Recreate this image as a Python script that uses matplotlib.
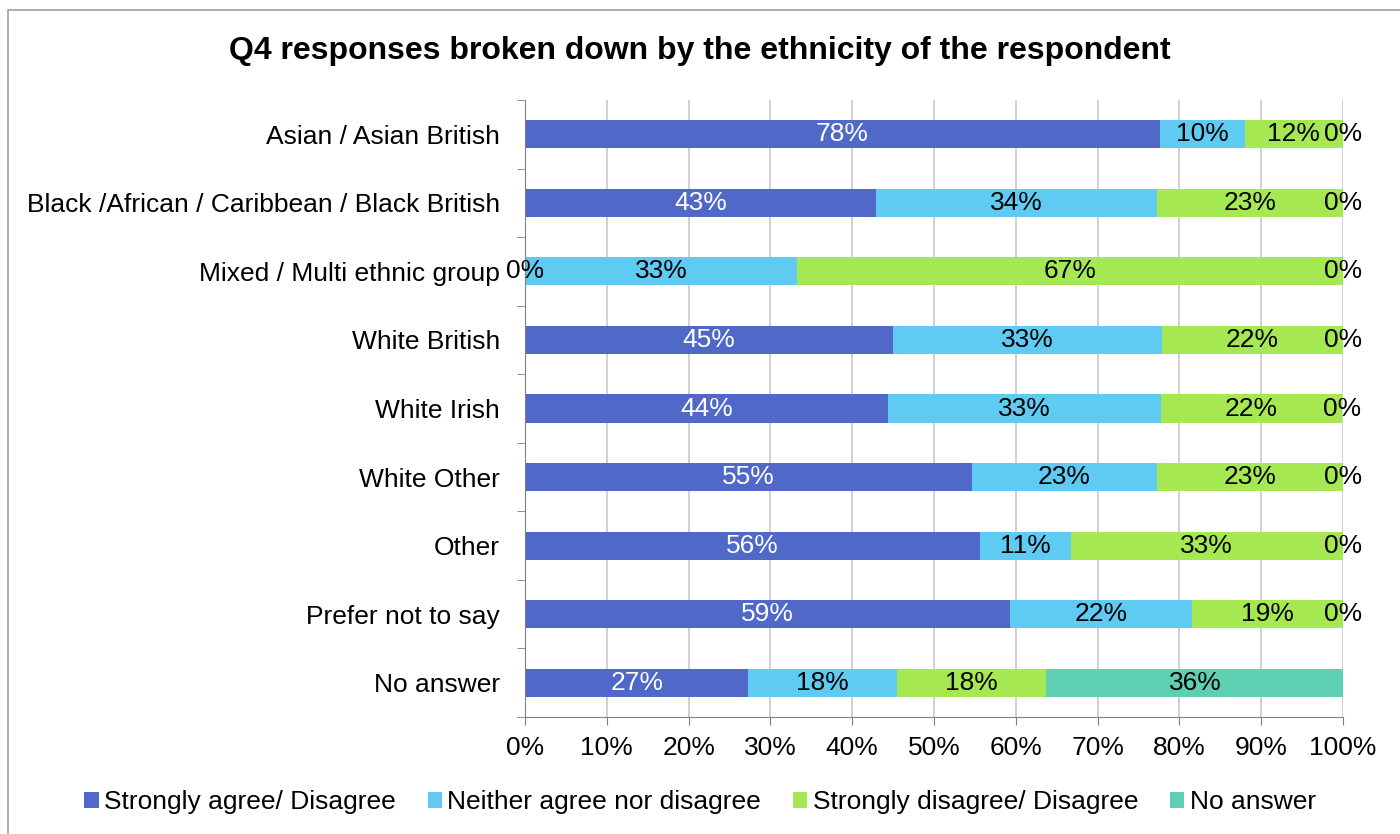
import numpy as np
import matplotlib.pyplot as plt
from matplotlib.patches import Rectangle

plt.rcParams['font.family'] = ['Liberation Sans', 'DejaVu Sans']

groups = ['Asian / Asian British', 'Black /African / Caribbean / Black British',
          'Mixed / Multi ethnic group', 'White British', 'White Irish',
          'White Other', 'Other', 'Prefer not to say', 'No answer']
series = ['Strongly agree/ Disagree', 'Neither agree nor disagree',
          'Strongly disagree/ Disagree', 'No answer']
agree = [77.6, 42.9, 0.0, 45.0, 44.4, 54.6, 55.6, 59.3, 27.3]
neither = [10.4, 34.4, 33.3, 32.9, 33.3, 22.7, 11.1, 22.2, 18.2]
disagree = [12.0, 22.7, 66.7, 22.1, 22.2, 22.7, 33.3, 18.5, 18.2]
no_answer = [0.0, 0.0, 0.0, 0.0, 0.0, 0.0, 0.0, 0.0, 36.4]
colors = ['#5068C8', '#5FCBF2', '#A6E852', '#5ECFB1']

fig = plt.figure(figsize=(14, 8.34), dpi=100)
fig.patches.append(Rectangle((8 / 1400, -0.1), 1.1, 1.1 - 10 / 834, transform=fig.transFigure,
                             fill=False, edgecolor='#A0A0A0', linewidth=1.2))
ax = fig.add_axes([525 / 1400, 1 - 717 / 834, 818 / 1400, 617 / 834])

y = np.arange(len(groups))
left = np.zeros(len(groups))
for vals, name, c, k in zip([agree, neither, disagree, no_answer], series, colors, range(4)):
    vals = np.array(vals)
    ax.barh(y, vals, left=left, height=0.41, color=c, label=name, zorder=2)
    for i in range(len(groups)):
        tc = 'white' if (k == 0 and vals[i] > 0) else 'black'
        ax.text(left[i] + vals[i] / 2, y[i], '%d%%' % int(vals[i] + 0.5), ha='center', va='center',
                fontsize=19, color=tc, zorder=3)
    left += vals

ax.set_xlim(0, 100)
ax.set_ylim(len(groups) - 0.5, -0.5)
ax.set_xticks(np.arange(0, 101, 10))
ax.set_xticklabels(['%d%%' % v for v in range(0, 101, 10)], fontsize=19)
ax.set_yticks(y)
ax.set_yticklabels(groups, fontsize=19)
ax.set_yticks(np.arange(-0.5, len(groups), 1), minor=True)
ax.tick_params(axis='y', which='major', length=0, pad=18)
ax.tick_params(axis='y', which='minor', length=6, color='#808080', direction='out')
ax.tick_params(axis='x', length=6, color='#808080', pad=8)
ax.grid(axis='x', color='#C8C8C8', linewidth=1.2, zorder=0)
for s in ['top', 'right']:
    ax.spines[s].set_visible(False)
for s in ['left', 'bottom']:
    ax.spines[s].set_color('#808080')

fig.text(0.5, 1 - 51 / 834, 'Q4 responses broken down by the ethnicity of the respondent',
         ha='center', va='center', fontsize=23, fontweight='bold')
fig.legend(loc='center', bbox_to_anchor=(0.5, 1 - 802 / 834), ncol=4, frameon=False,
           fontsize=19, handlelength=0.55, handleheight=0.55, handletextpad=0.2, columnspacing=1.2)

fig.savefig('out.png', dpi=100)
